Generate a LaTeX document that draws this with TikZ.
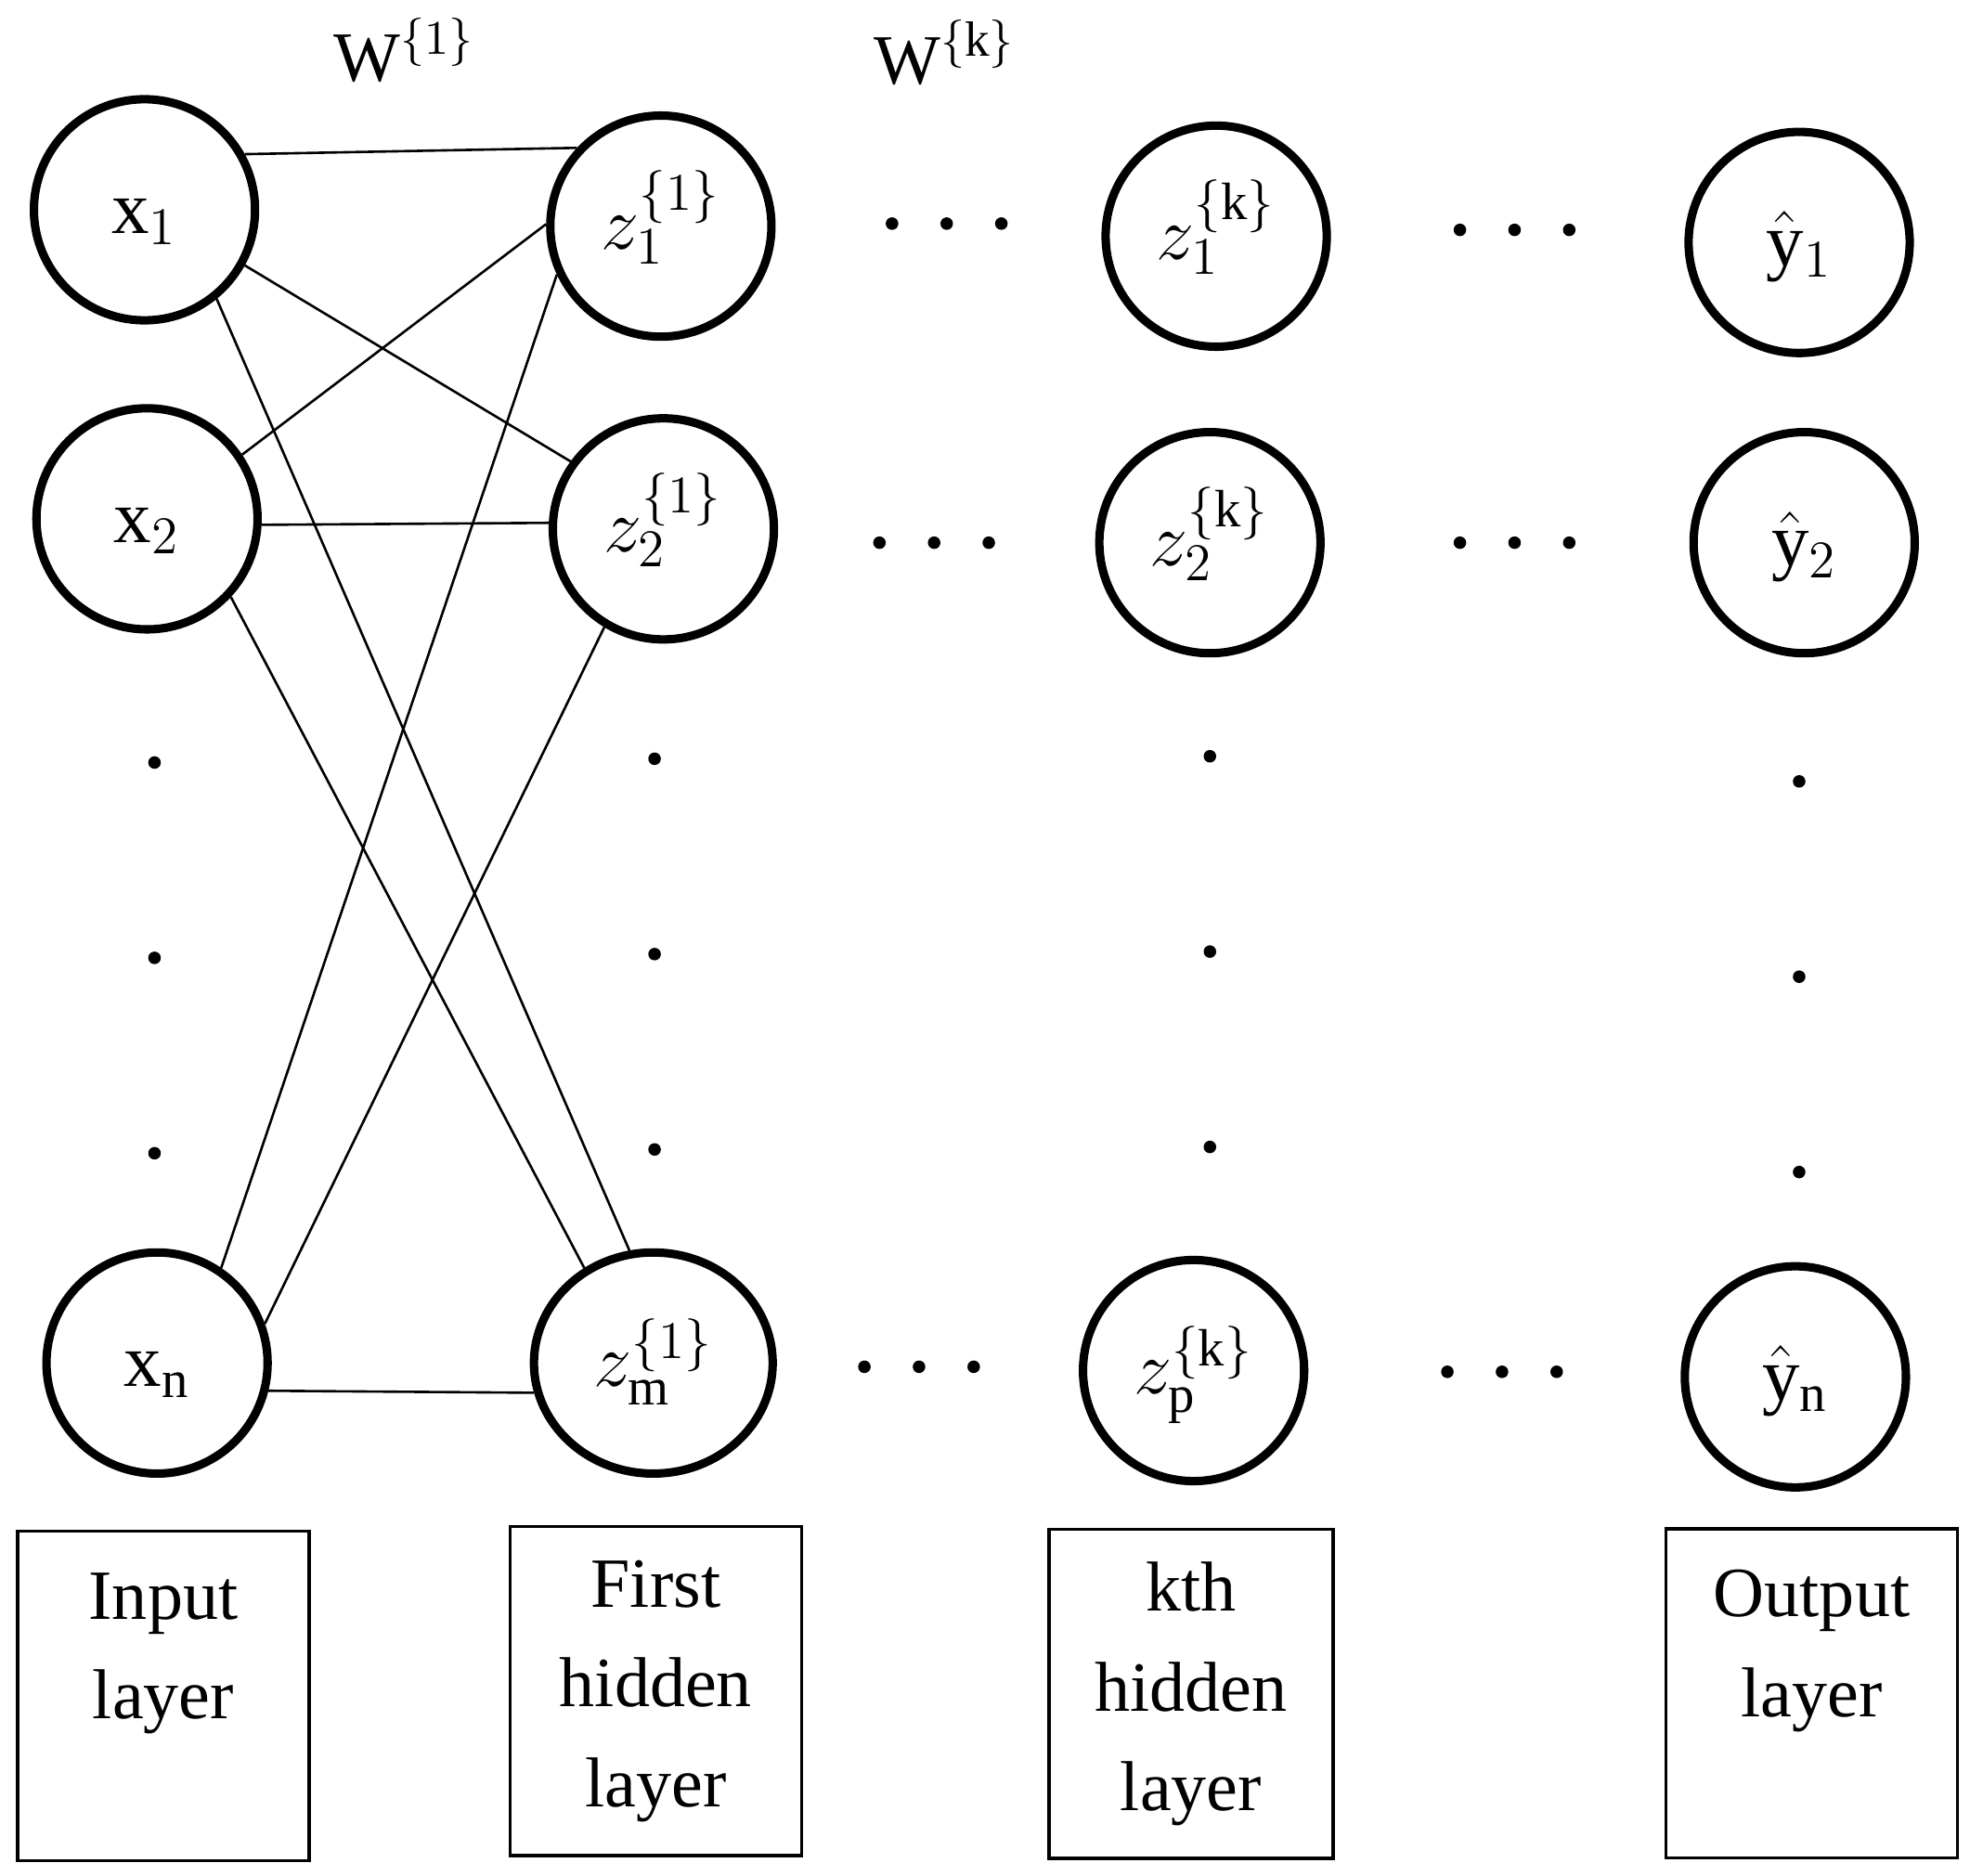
\documentclass[tikz,border=0pt]{standalone}
\usepackage{fontspec}
\setmainfont{Liberation Serif}
\usetikzlibrary{positioning,shapes.geometric}

\begin{document}
\begin{tikzpicture}[
  neuron/.style={circle, draw, line width=1.9pt, minimum size=1.76cm, inner sep=0pt,
                 text height=2.6ex, text depth=0.3ex,
                 font=\fontsize{17}{20}\selectfont},
  wideneuron/.style={neuron, ellipse, minimum width=1.90cm, minimum height=1.76cm},
  link/.style={line width=0.55pt},
  layerbox/.style={rectangle, draw, line width=0.75pt, minimum width=2.32cm,
                   minimum height=2.62cm, align=center, inner sep=0pt,
                   font=\fontsize{16}{22.6}\selectfont},
  wlabel/.style={font=\fontsize{16}{19}\selectfont},
]
\useasboundingbox (0,0) rectangle (15.68,-14.93);

% input layer
\node[neuron] (x1) at (1.15,-1.67) {$\mathrm{x}_1$};
\node[neuron] (x2) at (1.17,-4.13) {$\mathrm{x}_2$};
\node[neuron] (xn) at (1.25,-10.85) {$\mathrm{x}_\mathrm{n}$};

% first hidden layer
\node[neuron] (z1) at (5.26,-1.80) {$z_1^{\{1\}}$};
\node[neuron] (z2) at (5.28,-4.21) {$z_2^{\{1\}}$};
\node[wideneuron] (zm) at (5.20,-10.85) {$z_\mathrm{m}^{\{1\}}$};

% kth hidden layer
\node[neuron] (k1) at (9.68,-1.88) {$z_1^{\{\mathrm{k}\}}$};
\node[neuron] (k2) at (9.63,-4.32) {$z_2^{\{\mathrm{k}\}}$};
\node[neuron] (kp) at (9.50,-10.91) {$z_\mathrm{p}^{\{\mathrm{k}\}}$};

% output layer
\node[neuron] (y1) at (14.32,-1.93) {$\hat{\mathrm{y}}_1$};
\node[neuron] (y2) at (14.36,-4.32) {$\hat{\mathrm{y}}_2$};
\node[neuron] (yn) at (14.29,-10.96) {$\hat{\mathrm{y}}_\mathrm{n}$};

% weights
\node[wlabel] (w1) at (3.22,-0.40) {$\mathrm{W}^{\{1\}}$};
\node[wlabel] (wk) at (7.52,-0.42) {$\mathrm{W}^{\{\mathrm{k}\}}$};

% connections into the first hidden layer
\foreach \i/\j in {x1.29/z1.137, x1.-29/z2.144, x1.-51/zm.102,
                   x2.34/z1.179, x2.-3/z2.177, x2.-43/zm.126,
                   xn.56/z1.205, xn.20/z2.239, xn.-14/zm.194} {
  \draw[link] (\i) -- (\j);
}

% horizontal dots
\foreach \x/\y in {7.10/-1.78, 7.00/-4.32, 6.88/-10.88,
                   11.62/-1.83, 11.62/-4.32, 11.52/-10.92} {
  \foreach \d in {0,0.435,0.87}
    \fill (\x+\d,\y) circle (0.05);
}

% vertical dots
\foreach \x/\y in {1.23/-6.07, 5.21/-6.04, 9.63/-6.02, 14.32/-6.22} {
  \foreach \d in {0,1.555,3.11}
    \fill (\x,\y-\d) circle (0.05);
}

% layer names
\node[layerbox] (inbox) at (1.30,-13.50) {Input\\layer\\\mbox{}};
\node[layerbox] (h1box) at (5.22,-13.46) {First\\hidden\\layer};
\node[layerbox, minimum width=2.26cm] (hkbox) at (9.48,-13.485) {kth\\hidden\\layer};
\node[layerbox] (outbox) at (14.42,-13.48) {Output\\layer\\\mbox{}};

\end{tikzpicture}
\end{document}
